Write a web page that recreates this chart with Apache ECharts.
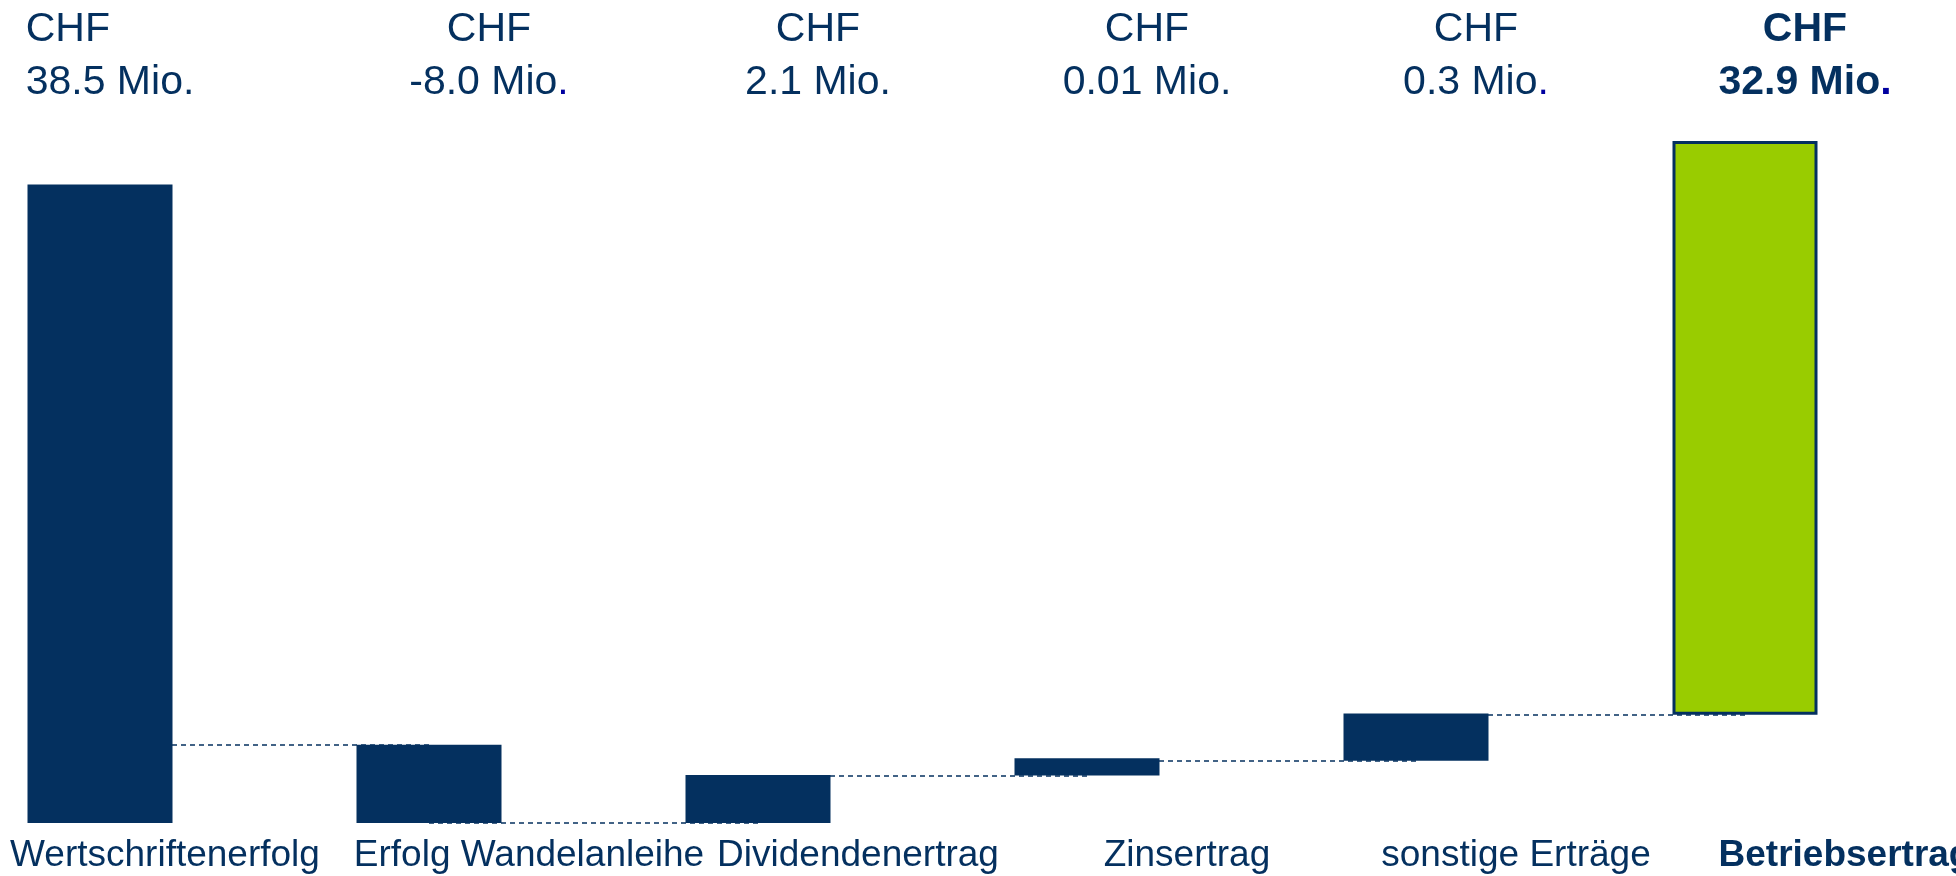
<!DOCTYPE html>
<html>
<head>
<meta charset="utf-8">
<script src="https://cdn.jsdelivr.net/npm/echarts@6/dist/echarts.min.js"></script>
<style>
html,body{margin:0;padding:0;background:#fff;}
#chart{width:1956px;height:876px;}
</style>
</head>
<body>
<div id="chart"></div>
<script>
// ---- data ----
const categories = ['Wertschriftenerfolg', 'Erfolg Wandelanleihe', 'Dividendenertrag', 'Zinsertrag', 'sonstige Erträge', 'Betriebsertrag'];
const values = [38.5, -8.0, 2.1, 0.01, 0.3, 32.9];
const valueLabels = ['38.5', '-8.0', '2.1', '0.01', '0.3', '32.9'];
// bar extents as drawn in the picture (chart units)
const barLow  = [0, 0, 0, 2.86, 3.76, 6.53];
const barHigh = [38.5, 4.72, 2.90, 3.90, 6.60, 41.13];

// ---- styling ----
const NAVY = '#04305F';
const GREEN = '#99CC00';
const DOTBLUE = '#0000A0';
const FONT = '"Liberation Sans", Arial, sans-serif';
const last = categories.length - 1;
const blueDotIdx = [1, 4, 5];

const chart = echarts.init(document.getElementById('chart'), null, {renderer: 'canvas'});

const connectors = [];
for (let i = 0; i < last; i++) {
  const lvl = values[i + 1] < 0 ? barHigh[i + 1] : barLow[i + 1];
  connectors.push([{coord: [categories[i], lvl]}, {coord: [categories[i + 1], lvl]}]);
}

const topPad = 120, topPadFirst = 20, botPad = 200, botPadFirst = 130;
const T = {fontSize: 41, lineHeight: 53, color: NAVY, fontFamily: FONT};
const topRich = {
  N:  Object.assign({}, T, {padding: [0, 0, 0, topPad]}),
  L:  Object.assign({}, T, {padding: [0, 0, 0, topPadFirst], align: 'left'}),
  Nd: Object.assign({}, T),
  Ld: Object.assign({}, T, {align: 'left'}),
  Dn: Object.assign({}, T, {color: DOTBLUE}),
  B:  Object.assign({}, T, {fontWeight: 'bold', padding: [0, 0, 0, topPad]}),
  Bd: Object.assign({}, T, {fontWeight: 'bold', color: DOTBLUE})
};
const X = {fontSize: 37, lineHeight: 37, color: NAVY, fontFamily: FONT};
const botRich = {
  f: Object.assign({}, X, {padding: [0, 0, 0, botPadFirst]}),
  a: Object.assign({}, X, {padding: [0, 0, 0, botPad]}),
  b: Object.assign({}, X, {fontWeight: 'bold', padding: [0, 0, 0, botPad]})
};

const option = {
  animation: false,
  backgroundColor: '#ffffff',
  grid: {left: 100, right: 211, top: 110, bottom: 53, containLabel: false, outerBoundsMode: 'none'},
  xAxis: [
    {
      type: 'category',
      data: categories,
      boundaryGap: false,
      position: 'bottom',
      axisLine: {show: false},
      axisTick: {show: false},
      splitLine: {show: false},
      axisLabel: {
        interval: 0,
        margin: 14,
        hideOverlap: false,
        formatter: (v, i) => '{' + (i === last ? 'b' : (i === 0 ? 'f' : 'a')) + '|' + v + '}',
        rich: botRich
      }
    },
    {
      type: 'category',
      data: categories,
      boundaryGap: false,
      position: 'top',
      axisLine: {show: false},
      axisTick: {show: false},
      splitLine: {show: false},
      axisLabel: {
        interval: 0,
        margin: 1,
        hideOverlap: false,
        formatter: (v, i) => {
          const k = i === last ? 'B' : (i === 0 ? 'L' : 'N');
          const kd = blueDotIdx.includes(i) ? (i === last ? 'Bd' : 'Dn') : (i === 0 ? 'Ld' : 'Nd');
          return '{' + k + '|CHF}\n{' + k + '|' + valueLabels[i] + ' Mio}{' + kd + '|.}';
        },
        rich: topRich
      }
    }
  ],
  yAxis: {
    type: 'value',
    min: 0,
    max: 43,
    show: false,
    splitLine: {show: false}
  },
  series: [
    {
      type: 'bar',
      stack: 'w',
      barWidth: 145,
      silent: true,
      z: 10,
      itemStyle: {color: 'rgba(0,0,0,0)'},
      data: barLow,
      markLine: {
        silent: true,
        z: 1,
        symbol: ['none', 'none'],
        label: {show: false},
        lineStyle: {color: NAVY, type: [5, 4], width: 1.5},
        data: connectors
      }
    },
    {
      type: 'bar',
      stack: 'w',
      barWidth: 145,
      z: 10,
      itemStyle: {color: NAVY},
      data: barHigh.map((h, i) => ({
        value: +(h - barLow[i]).toFixed(3),
        itemStyle: i === last ? {color: GREEN, borderColor: NAVY, borderWidth: 3} : {color: NAVY}
      }))
    }
  ]
};
chart.setOption(option);
</script>
</body>
</html>
